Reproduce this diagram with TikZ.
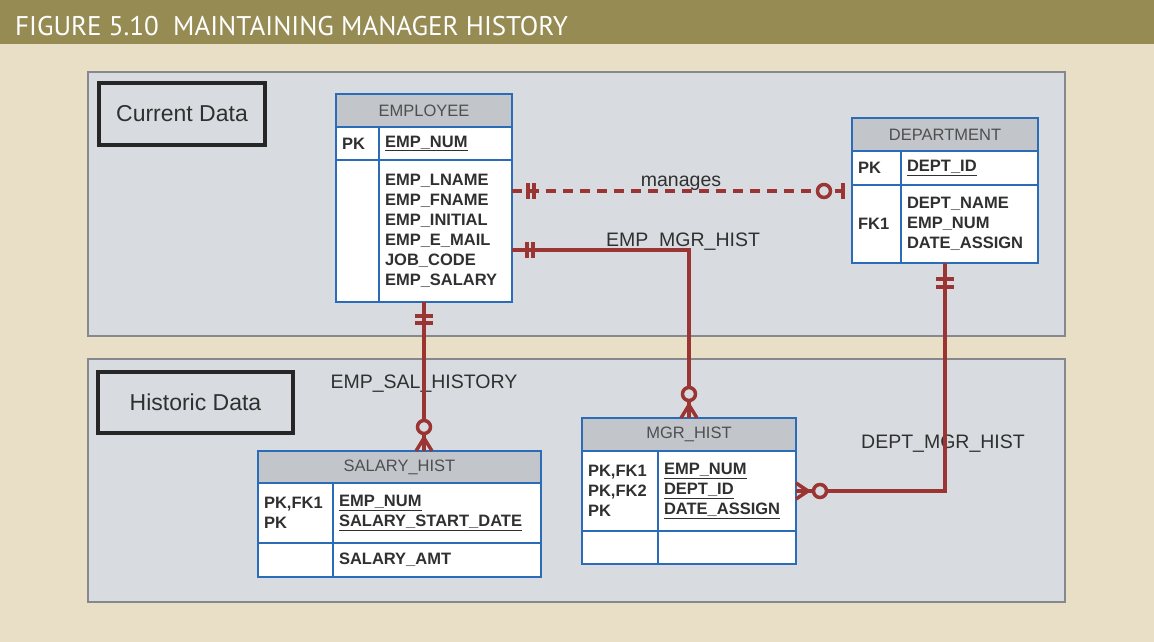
\documentclass[tikz,border=0pt]{standalone}
\usepackage{fontspec}
\setmainfont{Liberation Sans}
\newfontfamily\titlefont{PT Sans}
\definecolor{beige}{HTML}{E9DEC6}
\definecolor{olivebar}{HTML}{968C53}
\definecolor{panelgray}{HTML}{D8DCE0}
\definecolor{paneledge}{HTML}{85898E}
\definecolor{headgray}{HTML}{C2C5C9}
\definecolor{tblblue}{HTML}{2B6CB8}
\definecolor{relred}{HTML}{9A3533}
\definecolor{inkgray}{HTML}{303030}
\begin{document}
\begin{tikzpicture}[x=1pt, y=-1pt,
  tbl/.style={draw=tblblue, line width=2.2pt, inner sep=0pt, outer sep=0pt},
  head/.style={tbl, fill=headgray, text=inkgray!85, anchor=north west, minimum height=33pt, font=\fontsize{16.5}{20}\selectfont},
  cell/.style={tbl, fill=white, text=inkgray, anchor=north west, align=left, inner xsep=6pt, font=\fontsize{16.5}{20}\selectfont\bfseries},
  rel/.style={draw=relred, line width=3.5pt},
  tag/.style={text=inkgray, anchor=base, font=\fontsize{19.5}{22}\selectfont},
  area/.style={draw=paneledge, fill=panelgray, line width=2pt},
  kind/.style={draw=black!85, line width=4pt, text=inkgray, font=\fontsize{23}{26}\selectfont}]
\useasboundingbox (0,0) rectangle (1154,642);
\fill[beige] (0,0) rectangle (1154,642);
\fill[olivebar] (0,0) rectangle (1154,44);
\node[anchor=base west, inner sep=0pt, text=white, font=\titlefont\fontsize{27}{30}\selectfont] (title) at (15,36) {FIGURE 5.10\ \ MAINTAINING MANAGER HISTORY};
% panels
\draw[area] (88,72) rectangle (1065,336);
\draw[area] (88,359) rectangle (1065,602);
\node[kind, minimum width=166pt, minimum height=62pt] (current) at (182,114) {Current Data};
\node[kind, minimum width=195pt, minimum height=61pt] (historic) at (195.5,402.5) {Historic Data};
% EMPLOYEE
\begin{scope}
\node[head, minimum width=176pt] (emph) at (336,94) {EMPLOYEE};
\node[cell, text width=31pt, minimum height=33pt] (empk) at (336,127) {PK};
\node[cell, text width=121pt, minimum height=33pt] (empkn) at (379,127) {\underline{EMP\_NUM}};
\node[cell, text width=31pt, minimum height=142pt] (empb) at (336,160) {};
\node[cell, text width=121pt, minimum height=142pt] (empbn) at (379,160) {EMP\_LNAME\\EMP\_FNAME\\EMP\_INITIAL\\EMP\_E\_MAIL\\JOB\_CODE\\EMP\_SALARY};
\end{scope}
% DEPARTMENT
\begin{scope}
\node[head, minimum width=186pt] (deph) at (852,118) {DEPARTMENT};
\node[cell, text width=37pt, minimum height=34pt] (depk) at (852,151) {PK};
\node[cell, text width=125pt, minimum height=34pt] (depkn) at (901,151) {\underline{DEPT\_ID}};
\node[cell, text width=37pt, minimum height=78pt] (depb) at (852,185) {FK1};
\node[cell, text width=125pt, minimum height=78pt] (depbn) at (901,185) {DEPT\_NAME\\EMP\_NUM\\DATE\_ASSIGN};
\end{scope}
% MGR_HIST
\begin{scope}
\node[head, minimum width=214pt] (mgrh) at (582,418) {MGR\_HIST};
\node[cell, text width=64pt, minimum height=80pt] (mgrk) at (582,451) {PK,FK1\\PK,FK2\\PK};
\node[cell, text width=126pt, minimum height=80pt] (mgrkn) at (658,451) {\underline{EMP\_NUM}\\\underline{DEPT\_ID}\\\underline{DATE\_ASSIGN}};
\node[cell, text width=64pt, minimum height=33pt] (mgrb) at (582,531) {};
\node[cell, text width=126pt, minimum height=33pt] (mgrbn) at (658,531) {};
\end{scope}
% SALARY_HIST
\begin{scope}
\node[head, minimum width=283pt, minimum height=32pt] (salh) at (258,451) {SALARY\_HIST};
\node[cell, text width=63pt, minimum height=60pt] (salk) at (258,483) {PK,FK1\\PK};
\node[cell, text width=196pt, minimum height=60pt] (salkn) at (333,483) {\underline{EMP\_NUM}\\\underline{SALARY\_START\_DATE}};
\node[cell, text width=63pt, minimum height=34pt] (salb) at (258,543) {};
\node[cell, text width=196pt, minimum height=34pt] (salbn) at (333,543) {SALARY\_AMT};
\end{scope}
% relationship names
\node[tag] (manages) at (681,186) {manages};
\node[tag] (empmgr) at (683,246) {EMP\_MGR\_HIST};
\node[tag] (empsal) at (424,388) {EMP\_SAL\_HISTORY};
\node[tag] (deptmgr) at (943,448) {DEPT\_MGR\_HIST};
% relationships
\draw[rel, dash pattern=on 10pt off 7pt] ([yshift=40pt]empbn.east) coordinate (mA) -- (mA -| deph.west) coordinate (mB);
\draw[rel] ([yshift=-19pt]empbn.east) coordinate (hA) -| (mgrh.north) coordinate (hB);
\draw[rel] (emph.south |- empbn.south) coordinate (sA) -- (emph.south |- salh.north) coordinate (sB);
\draw[rel] (deph.south |- depbn.south) coordinate (dA) |- (mgrkn.east) coordinate (dB);
% one and only one
\foreach \s in {16,22} \draw[rel] ([xshift=\s pt,yshift=8pt]mA) -- ([xshift=\s pt,yshift=-8pt]mA);
\foreach \s in {15,21} \draw[rel] ([xshift=\s pt,yshift=8pt]hA) -- ([xshift=\s pt,yshift=-8pt]hA);
\foreach \s in {14,21} \draw[rel] ([xshift=-9pt,yshift=-\s pt]sA) -- ([xshift=9pt,yshift=-\s pt]sA);
\foreach \s in {16,24} \draw[rel] ([xshift=-9pt,yshift=-\s pt]dA) -- ([xshift=9pt,yshift=-\s pt]dA);
% zero or one
\draw[rel] ([xshift=-9pt,yshift=8pt]mB) -- ([xshift=-9pt,yshift=-8pt]mB);
\draw[rel, fill=panelgray] ([xshift=-28pt]mB) circle (6.5pt);
% zero or many
\draw[rel] ([xshift=-8pt]hB) -- ([yshift=13pt]hB) -- ([xshift=8pt]hB);
\draw[rel, fill=panelgray] ([yshift=24pt]hB) circle (6.5pt);
\draw[rel] ([xshift=-8pt]sB) -- ([yshift=13pt]sB) -- ([xshift=8pt]sB);
\draw[rel, fill=panelgray] ([yshift=24pt]sB) circle (6.5pt);
\draw[rel] ([yshift=8pt]dB) -- ([xshift=12pt]dB) -- ([yshift=-8pt]dB);
\draw[rel, fill=panelgray] ([xshift=24pt]dB) circle (6.5pt);
\end{tikzpicture}
\end{document}
